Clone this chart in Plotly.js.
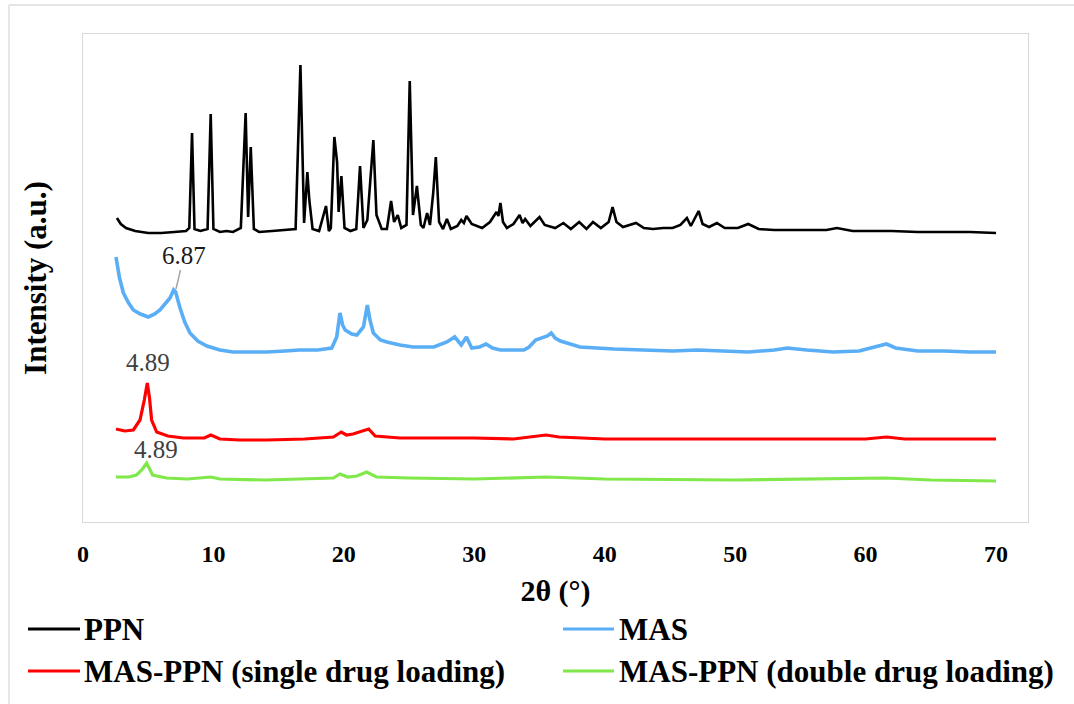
<!DOCTYPE html>
<html>
<head>
<meta charset="utf-8">
<script src="https://cdn.plot.ly/plotly-3.0.1.min.js"></script>
<style>
html,body{margin:0;padding:0;background:#fff;}
#chart{width:1074px;height:704px;}
#chart svg text{font-family:"Liberation Serif","Times New Roman",serif !important;}
</style>
</head>
<body>
<div id="chart"></div>
<script>
// ---- Data (2θ in degrees, intensity in arbitrary units, offset-stacked as in the figure) ----
const seriesNames = ["PPN", "MAS", "MAS-PPN (single drug loading)", "MAS-PPN (double drug loading)"];
const seriesColors = ["#000000", "#5aaef5", "#ff0000", "#80e84a"];

const ppnX = [2.6,2.9,3.3,4.0,5.0,6.0,7.0,7.9,8.15,8.36,8.55,9.0,9.55,9.79,10.0,10.5,11.0,11.5,12.1,12.47,12.66,12.86,13.1,13.5,14.5,15.5,16.3,16.67,16.95,17.2,17.35,17.6,18.1,18.63,18.85,19.0,19.27,19.48,19.6,19.81,20.05,20.5,20.95,21.24,21.5,21.8,22.0,22.26,22.5,22.9,23.3,23.62,23.85,24.13,24.4,24.8,25.05,25.3,25.6,25.9,26.1,26.38,26.6,26.85,27.05,27.3,27.6,27.9,28.2,28.7,29.0,29.2,29.4,29.8,30.6,31.2,31.7,31.85,32.0,32.2,32.5,33.0,33.47,33.7,33.9,34.3,35.0,35.4,36.2,36.83,37.4,38.04,38.6,39.1,39.7,40.3,40.6,40.9,41.4,42.4,43.0,43.7,44.5,45.2,45.8,46.3,46.6,47.2,47.5,48.0,48.6,49.2,50.2,51.0,51.8,53.0,55.0,57.0,57.8,59.0,61.0,62.0,64.0,66.0,68.0,70.0];
const ppnY = [304,298,294,291,289,289,290,291,294,389,293,291,293,408,293,290,291,290,294,409,305,375,293,290,291,292,293,457,299,350,322,293,291,316,291,294,385,360,310,346,294,291,293,356,294,302,334,382,307,293,293,321,300,307,294,297,441,307,336,297,294,309,297,329,365,300,293,303,293,296,302,299,306,298,294,300,310,306,319,300,294,298,307,299,303,296,305,297,294,299,293,300,293,300,294,300,315,300,295,299,294,293,294,294,297,304,296,311,298,295,299,294,294,298,293,292,292,292,294,291,291,291,290,290,290,289];

const masX = [2.53,2.8,3.1,3.5,3.86,4.4,5.0,5.5,5.9,6.3,6.67,6.95,7.1,7.44,7.8,8.2,8.8,9.5,10.5,11.5,13.0,14.1,15.5,16.6,18.0,19.07,19.45,19.7,19.9,20.1,20.6,21.0,21.5,21.8,22.0,22.26,22.8,23.3,24.3,25.3,26.9,27.9,28.5,29.0,29.4,29.8,30.4,30.9,31.4,32.0,33.8,34.2,34.7,35.3,35.6,35.9,36.2,36.6,38.1,40.7,43.0,45.2,47.1,49.0,51.0,53.0,54.0,55.5,57.5,59.5,60.8,61.6,62.3,64.0,66.0,68.0,70.0];
const masY = [265,244,229,219,212,208,205,208,212,218,224,232,230,214,200,189,181,176,172,170,170,170,171,172,172,174,185,209,197,192,188,187,195,217,202,189,182,180,177,175,175,180,185,177,185,174,175,178,174,172,172,175,182,185,186,189,184,181,175,173,172,171,172,171,170,172,174,172,170,171,175,178,174,171,171,170,170];

const singleX = [2.53,3.2,3.86,4.37,4.7,4.93,5.1,5.26,5.65,6.5,7.7,9.3,9.8,10.5,12.0,14.1,17.0,19.2,19.8,20.2,20.7,21.9,22.4,24.3,27.0,30.0,33.0,34.5,35.5,36.5,40.0,45.0,50.0,55.0,60.0,61.6,63.0,67.0,70.0];
const singleY = [93,91,92,102,122,139,124,102,90,86,84,84,87,83,82,82,83,85,90,87,88,93,86,84,84,84,83,85,87,85,83,83,83,83,83,85,83,83,83];

const doubleX = [2.53,3.5,4.1,4.5,4.88,5.1,5.34,6.4,8.0,9.8,10.5,14.0,17.0,19.2,19.7,20.3,21.0,21.75,22.5,25.0,30.0,35.5,40.0,50.0,61.5,65.0,70.0];
const doubleY = [45,45,47,52,59,54,47,44,43,45,43,42,43,44,48,45,46,50,45,44,43,45,43,42,44,42,41];

const xTickVals = [0,10,20,30,40,50,60,70];
const xTickText = ["0","10","20","30","40","50","60","70"];

// peak labels
const peakLabels = [
  {text: "6.87", x: 7.13, y: 233, arrow: true, color: "#1a1a1a"},
  {text: "4.89", x: 4.98, y: 160, arrow: false, color: "#404040"},
  {text: "4.89", x: 5.6, y: 73, arrow: false, color: "#404040"}
];

// ---- Layout geometry ----
const W = 1074, H = 704;
const M = {l: 83, r: 46, t: 34, b: 182};
const PW = W - M.l - M.r, PH = H - M.t - M.b;
const px = v => (v - M.l) / PW;
const py = v => (H - M.b - v) / PH;

const FONT = "Liberation Serif";
const lineWidths = [2.6, 3.6, 3.2, 3.2];

const traces = [
  {x: ppnX, y: ppnY}, {x: masX, y: masY}, {x: singleX, y: singleY}, {x: doubleX, y: doubleY}
].map((d, i) => ({
  x: d.x, y: d.y, type: "scatter", mode: "lines", name: seriesNames[i],
  line: {color: seriesColors[i], width: lineWidths[i]}, showlegend: false, hoverinfo: "x+y+name"
}));

const annotations = peakLabels.map(p => p.arrow ? ({
  x: p.x, y: p.y, xref: "x", yref: "y", text: p.text, showarrow: true, arrowhead: 0,
  arrowwidth: 1.5, arrowcolor: "#a6a6a6", ax: 8, ay: -34,
  font: {family: FONT, size: 25, color: p.color}
}) : ({
  x: p.x, y: p.y, xref: "x", yref: "y", text: p.text, showarrow: false,
  font: {family: FONT, size: 25, color: p.color}
}));

// custom legend (two columns)
const legendPos = [
  {x0: 28, x1: 80, tx: 82, y: 629},
  {x0: 563, x1: 614, tx: 617, y: 629},
  {x0: 28, x1: 80, tx: 82, y: 671},
  {x0: 563, x1: 614, tx: 617, y: 671}
];
const shapes = [];
legendPos.forEach((p, i) => {
  shapes.push({type: "line", xref: "paper", yref: "paper", x0: px(p.x0), x1: px(p.x1), y0: py(p.y), y1: py(p.y),
    line: {color: seriesColors[i], width: 3}});
  annotations.push({xref: "paper", yref: "paper", x: px(p.tx), y: py(p.y), xanchor: "left", yanchor: "middle",
    text: seriesNames[i], showarrow: false, font: {family: FONT, size: 31, color: "#000", weight: "bold"}});
});
// outer chart border (left and top edges visible)
shapes.push({type: "line", xref: "paper", yref: "paper", x0: px(9), x1: px(9), y0: py(5), y1: py(704), line: {color: "#dcdcdc", width: 1.3}});
shapes.push({type: "line", xref: "paper", yref: "paper", x0: px(9), x1: px(1074), y0: py(5), y1: py(5), line: {color: "#dcdcdc", width: 1.3}});

const layout = {
  width: W, height: H, margin: M, paper_bgcolor: "#fff", plot_bgcolor: "#fff",
  showlegend: false,
  font: {family: FONT, color: "#000"},
  xaxis: {
    range: [0, 72.45], tickvals: xTickVals, ticktext: xTickText, showgrid: false, zeroline: false,
    showline: true, mirror: true, linecolor: "#d9d9d9", linewidth: 1.3, ticks: "",
    ticklabelstandoff: 10,
    tickfont: {family: FONT, size: 24, color: "#000", weight: "bold"},
    title: {text: "2θ (°)", standoff: 14, font: {family: FONT, size: 30, color: "#000", weight: "bold"}}
  },
  yaxis: {
    range: [0, 488], showticklabels: false, showgrid: false, zeroline: false,
    showline: true, mirror: true, linecolor: "#d9d9d9", linewidth: 1.3, ticks: "",
    title: {text: "Intensity (a.u.)", standoff: 26, font: {family: FONT, size: 31, color: "#000", weight: "bold"}}
  },
  annotations: annotations,
  shapes: shapes
};

Plotly.newPlot("chart", traces, layout, {displayModeBar: false});
</script>
</body>
</html>
